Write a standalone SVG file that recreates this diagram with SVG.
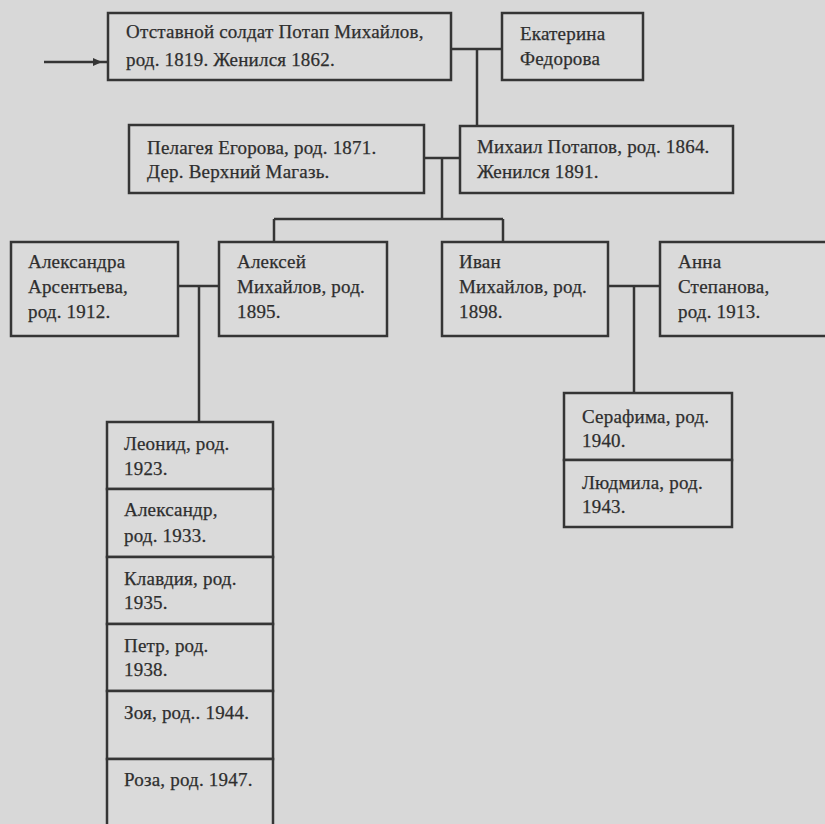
<svg xmlns="http://www.w3.org/2000/svg" width="825" height="824" viewBox="0 0 825 824">
<style>
.box{fill:#dadada;stroke:#353535;stroke-width:2.5}
.ln{fill:none;stroke:#353535;stroke-width:2.5}
text{font-family:"Liberation Serif","Times New Roman",serif;font-size:19px;letter-spacing:0.2px;fill:#2e2e2e;stroke:#2e2e2e;stroke-width:0.25}
</style>
<rect width="825" height="824" fill="#d8d8d8"/>
<g id="connectors">
<line class="ln" x1="44" y1="62" x2="108" y2="62"/>
<polygon points="93,58 102,62 93,66" fill="#353535"/>
<line class="ln" x1="451" y1="49" x2="502" y2="49"/>
<line class="ln" x1="477" y1="49" x2="477" y2="126"/>
<line class="ln" x1="424" y1="158" x2="460" y2="158"/>
<line class="ln" x1="442" y1="158" x2="442" y2="219"/>
<line class="ln" x1="274" y1="219" x2="503" y2="219"/>
<line class="ln" x1="274" y1="219" x2="274" y2="242"/>
<line class="ln" x1="503" y1="219" x2="503" y2="242"/>
<line class="ln" x1="178" y1="286" x2="219" y2="286"/>
<line class="ln" x1="199" y1="286" x2="199" y2="422"/>
<line class="ln" x1="608" y1="286" x2="660" y2="286"/>
<line class="ln" x1="634" y1="286" x2="634" y2="393"/>
</g>
<g id="potap"><rect class="box" x="108" y="13" width="343" height="67"/><text x="126" y="38">Отставной солдат Потап Михайлов,</text><text x="126" y="66">род. 1819. Женился 1862.</text></g>
<g id="ekaterina"><rect class="box" x="502" y="13" width="141" height="67"/><text x="520" y="40">Екатерина</text><text x="520" y="65">Федорова</text></g>
<g id="pelageya"><rect class="box" x="129" y="125" width="295" height="68"/><text x="147" y="154">Пелагея Егорова, род. 1871.</text><text x="147" y="178">Дер. Верхний Магазь.</text></g>
<g id="mikhail"><rect class="box" x="460" y="126" width="273" height="67"/><text x="477" y="153">Михаил Потапов, род. 1864.</text><text x="477" y="178">Женился 1891.</text></g>
<g id="aleksandra"><rect class="box" x="11" y="242" width="167" height="94"/><text x="28" y="268">Александра</text><text x="28" y="293">Арсентьева,</text><text x="28" y="318">род. 1912.</text></g>
<g id="aleksey"><rect class="box" x="219" y="242" width="168" height="94"/><text x="237" y="268">Алексей</text><text x="237" y="293">Михайлов, род.</text><text x="237" y="318">1895.</text></g>
<g id="ivan"><rect class="box" x="442" y="242" width="166" height="94"/><text x="459" y="268">Иван</text><text x="459" y="293">Михайлов, род.</text><text x="459" y="318">1898.</text></g>
<g id="anna"><rect class="box" x="660" y="242" width="180" height="94"/><text x="678" y="268">Анна</text><text x="678" y="293">Степанова,</text><text x="678" y="318">род. 1913.</text></g>
<g id="leonid"><rect class="box" x="107" y="422" width="166" height="67"/><text x="124" y="450">Леонид, род.</text><text x="124" y="475">1923.</text></g>
<g id="aleksandr"><rect class="box" x="107" y="489" width="166" height="68"/><text x="124" y="516">Александр,</text><text x="124" y="542">род. 1933.</text></g>
<g id="klavdiya"><rect class="box" x="107" y="557" width="166" height="67"/><text x="124" y="585">Клавдия, род.</text><text x="124" y="609">1935.</text></g>
<g id="petr"><rect class="box" x="107" y="624" width="166" height="67"/><text x="124" y="652">Петр, род.</text><text x="124" y="676">1938.</text></g>
<g id="zoya"><rect class="box" x="107" y="691" width="166" height="68"/><text x="124" y="719">Зоя, род.. 1944.</text></g>
<g id="roza"><rect class="box" x="107" y="759" width="166" height="80"/><text x="124" y="786">Роза, род. 1947.</text></g>
<g id="serafima"><rect class="box" x="564" y="393" width="168" height="67"/><text x="582" y="423">Серафима, род.</text><text x="582" y="447">1940.</text></g>
<g id="lyudmila"><rect class="box" x="564" y="460" width="168" height="67"/><text x="582" y="489">Людмила, род.</text><text x="582" y="513">1943.</text></g>
</svg>
